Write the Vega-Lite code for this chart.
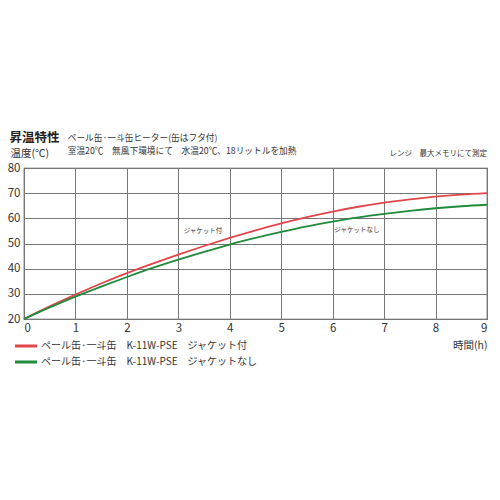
{
  "$schema": "https://vega.github.io/schema/vega-lite/v6.json",
  "description": "昇温特性: ペール缶・一斗缶ヒーター K-11W-PSE, jacket vs no jacket",
  "autosize": {"type": "none"},
  "width": 463,
  "height": 151,
  "padding": {"left": 24, "top": 168, "right": 13, "bottom": 181},
  "background": "white",
  "config": {
    "font": "Noto Sans CJK JP",
    "view": {"stroke": "#444", "strokeWidth": 1.2},
    "axis": {
      "labelFont": "Noto Sans CJK JP",
      "labelFontSize": 11.5,
      "labelColor": "#333",
      "labelOverlap": false,
      "gridColor": "#777",
      "gridOpacity": 1,
      "gridWidth": 1,
      "domain": false,
      "ticks": false,
      "titleFont": "Noto Sans CJK JP",
      "titleFontWeight": "normal",
      "titleColor": "#333"
    }
  },
  "data": {
    "values": [
      {"h": 0, "temp": 20, "s": "ジャケット付"},
      {"h": 0.5, "temp": 25, "s": "ジャケット付"},
      {"h": 1, "temp": 29.7, "s": "ジャケット付"},
      {"h": 1.5, "temp": 34.1, "s": "ジャケット付"},
      {"h": 2, "temp": 38.2, "s": "ジャケット付"},
      {"h": 2.5, "temp": 42, "s": "ジャケット付"},
      {"h": 3, "temp": 45.6, "s": "ジャケット付"},
      {"h": 3.5, "temp": 49, "s": "ジャケット付"},
      {"h": 4, "temp": 52.2, "s": "ジャケット付"},
      {"h": 4.5, "temp": 55.2, "s": "ジャケット付"},
      {"h": 5, "temp": 58, "s": "ジャケット付"},
      {"h": 5.5, "temp": 60.5, "s": "ジャケット付"},
      {"h": 6, "temp": 62.7, "s": "ジャケット付"},
      {"h": 6.5, "temp": 64.6, "s": "ジャケット付"},
      {"h": 7, "temp": 66.2, "s": "ジャケット付"},
      {"h": 7.5, "temp": 67.5, "s": "ジャケット付"},
      {"h": 8, "temp": 68.6, "s": "ジャケット付"},
      {"h": 8.5, "temp": 69.4, "s": "ジャケット付"},
      {"h": 9, "temp": 70, "s": "ジャケット付"},
      {"h": 0, "temp": 20, "s": "ジャケットなし"},
      {"h": 0.5, "temp": 24.6, "s": "ジャケットなし"},
      {"h": 1, "temp": 28.9, "s": "ジャケットなし"},
      {"h": 1.5, "temp": 32.9, "s": "ジャケットなし"},
      {"h": 2, "temp": 36.7, "s": "ジャケットなし"},
      {"h": 2.5, "temp": 40.3, "s": "ジャケットなし"},
      {"h": 3, "temp": 43.6, "s": "ジャケットなし"},
      {"h": 3.5, "temp": 46.7, "s": "ジャケットなし"},
      {"h": 4, "temp": 49.6, "s": "ジャケットなし"},
      {"h": 4.5, "temp": 52.2, "s": "ジャケットなし"},
      {"h": 5, "temp": 54.6, "s": "ジャケットなし"},
      {"h": 5.5, "temp": 56.8, "s": "ジャケットなし"},
      {"h": 6, "temp": 58.7, "s": "ジャケットなし"},
      {"h": 6.5, "temp": 60.4, "s": "ジャケットなし"},
      {"h": 7, "temp": 61.8, "s": "ジャケットなし"},
      {"h": 7.5, "temp": 63, "s": "ジャケットなし"},
      {"h": 8, "temp": 64, "s": "ジャケットなし"},
      {"h": 8.5, "temp": 64.8, "s": "ジャケットなし"},
      {"h": 9, "temp": 65.4, "s": "ジャケットなし"}
    ]
  },
  "layer": [
    {
      "mark": {"type": "line", "interpolate": "monotone", "strokeWidth": 1.8},
      "encoding": {
        "x": {
          "field": "h", "type": "quantitative",
          "scale": {"domain": [0, 9], "nice": false},
          "axis": {
            "values": [0, 1, 2, 3, 4, 5, 6, 7, 8, 9],
            "labelPadding": 3,
            "title": "時間(h)",
            "titleFontSize": 10.5,
            "titleX": 463, "titleY": 26,
            "titleAlign": "right", "titleBaseline": "middle"
          }
        },
        "y": {
          "field": "temp", "type": "quantitative",
          "scale": {"domain": [20, 80], "nice": false, "zero": false},
          "axis": {
            "values": [20, 30, 40, 50, 60, 70, 80],
            "labelPadding": 4,
            "title": "温度(℃)",
            "titleFontSize": 10.5,
            "titleAngle": 0,
            "titleX": -14, "titleY": -15,
            "titleAlign": "left", "titleBaseline": "middle"
          }
        },
        "color": {
          "field": "s", "type": "nominal",
          "scale": {"domain": ["ジャケット付", "ジャケットなし"], "range": ["#e0474c", "#1f8b3b"]},
          "legend": {
            "orient": "none",
            "legendX": -8, "legendY": 168,
            "title": null,
            "symbolType": "M-1.3,0H1.3",
            "symbolSize": 289,
            "symbolStrokeWidth": 3,
            "labelFontSize": 10,
            "labelColor": "#333",
            "labelOffset": 5,
            "labelLimit": 0,
            "rowPadding": -1,
            "labelExpr": "'ペール缶·一斗缶　K-11W-PSE　' + datum.label"
          }
        }
      }
    },
    {
      "data": {"values": [{}]},
      "mark": {"type": "text", "text": "ジャケット付", "fontSize": 6.5, "color": "#333", "align": "center", "baseline": "middle"},
      "encoding": {
        "x": {"datum": 3.48, "axis": {"values": [0, 1, 2, 3, 4, 5, 6, 7, 8, 9], "title": "時間(h)"}},
        "y": {"datum": 55, "axis": {"values": [20, 30, 40, 50, 60, 70, 80], "title": "温度(℃)"}}
      }
    },
    {
      "data": {"values": [{}]},
      "mark": {"type": "text", "text": "ジャケットなし", "fontSize": 6.5, "color": "#333", "align": "center", "baseline": "middle"},
      "encoding": {
        "x": {"datum": 6.47, "axis": {"values": [0, 1, 2, 3, 4, 5, 6, 7, 8, 9], "title": "時間(h)"}},
        "y": {"datum": 55.4, "axis": {"values": [20, 30, 40, 50, 60, 70, 80], "title": "温度(℃)"}}
      }
    },
    {
      "data": {"values": [{}]},
      "mark": {"type": "text", "text": "昇温特性", "fontSize": 12.5, "fontWeight": "bold", "color": "#222", "align": "left", "baseline": "middle"},
      "encoding": {
        "x": {"datum": -0.28, "axis": {"values": [0, 1, 2, 3, 4, 5, 6, 7, 8, 9], "title": "時間(h)"}},
        "y": {"datum": 92.1, "axis": {"values": [20, 30, 40, 50, 60, 70, 80], "title": "温度(℃)"}}
      }
    },
    {
      "data": {"values": [{}]},
      "mark": {"type": "text", "text": "ペール缶·一斗缶ヒーター(缶はフタ付)", "fontSize": 8.7, "color": "#333", "align": "left", "baseline": "middle"},
      "encoding": {
        "x": {"datum": 0.85, "axis": {"values": [0, 1, 2, 3, 4, 5, 6, 7, 8, 9], "title": "時間(h)"}},
        "y": {"datum": 92.1, "axis": {"values": [20, 30, 40, 50, 60, 70, 80], "title": "温度(℃)"}}
      }
    },
    {
      "data": {"values": [{}]},
      "mark": {"type": "text", "text": "室温20℃　無風下環境にて　水温20℃、18リットルを加熱", "fontSize": 8.7, "color": "#333", "align": "left", "baseline": "middle"},
      "encoding": {
        "x": {"datum": 0.85, "axis": {"values": [0, 1, 2, 3, 4, 5, 6, 7, 8, 9], "title": "時間(h)"}},
        "y": {"datum": 86.9, "axis": {"values": [20, 30, 40, 50, 60, 70, 80], "title": "温度(℃)"}}
      }
    },
    {
      "data": {"values": [{}]},
      "mark": {"type": "text", "text": "レンジ　最大メモリにて測定", "fontSize": 7.5, "color": "#333", "align": "right", "baseline": "middle"},
      "encoding": {
        "x": {"datum": 9, "axis": {"values": [0, 1, 2, 3, 4, 5, 6, 7, 8, 9], "title": "時間(h)"}},
        "y": {"datum": 85.4, "axis": {"values": [20, 30, 40, 50, 60, 70, 80], "title": "温度(℃)"}}
      }
    }
  ]
}
